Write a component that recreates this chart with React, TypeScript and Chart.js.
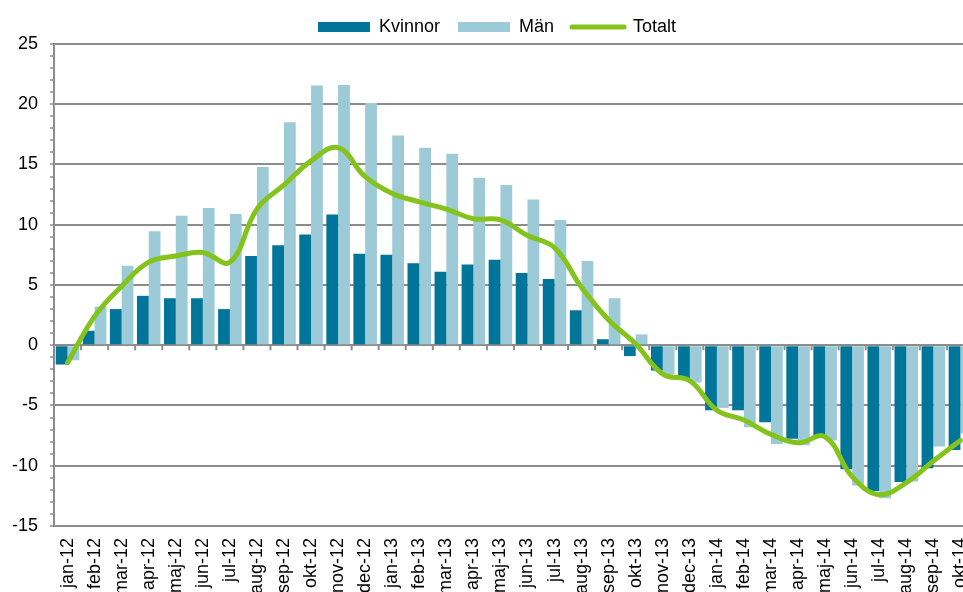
import React, { useEffect, useRef } from "react";
import { Chart, registerables } from "chart.js";

Chart.register(...registerables);

const categories = [
  "jan-12", "feb-12", "mar-12", "apr-12", "maj-12", "jun-12", "jul-12", "aug-12", "sep-12", "okt-12", "nov-12", "dec-12",
  "jan-13", "feb-13", "mar-13", "apr-13", "maj-13", "jun-13", "jul-13", "aug-13", "sep-13", "okt-13", "nov-13", "dec-13",
  "jan-14", "feb-14", "mar-14", "apr-14", "maj-14", "jun-14", "jul-14", "aug-14", "sep-14", "okt-14",
];

const kvinnor = [
  -1.6, 1.2, 3.0, 4.1, 3.9, 3.9, 3.0, 7.4, 8.3, 9.2, 10.85, 7.6,
  7.5, 6.8, 6.1, 6.7, 7.1, 6.0, 5.5, 2.9, 0.5, -0.9, -2.1, -2.8,
  -5.4, -5.4, -6.4, -7.75, -7.5, -10.3, -12.1, -11.35, -10.2, -8.7,
];

const man = [
  -1.25, 3.2, 6.6, 9.45, 10.75, 11.4, 10.9, 14.8, 18.5, 21.55, 21.6, 20.1,
  17.4, 16.4, 15.9, 13.9, 13.3, 12.1, 10.4, 7.0, 3.9, 0.9, -2.4, -3.1,
  -5.2, -6.8, -8.2, -8.3, -7.9, -11.65, -12.7, -11.3, -8.4, -7.3,
];

const totalt = [
  -1.45, 2.4, 4.9, 6.9, 7.4, 7.7, 6.9, 11.3, 13.3, 15.3, 16.4, 14.0,
  12.6, 11.9, 11.3, 10.5, 10.4, 9.1, 8.1, 4.8, 2.1, 0.1, -2.4, -2.95,
  -5.4, -6.2, -7.4, -8.1, -7.6, -10.9, -12.4, -11.4, -9.6, -7.9,
];

const yMin = -15;
const yMax = 25;
const yMajorStep = 5;

const DARK = "#00759a";
const LIGHT = "#9ccad7";
const GREEN = "#84c31c";
const GRID = "#8c8c8c";
const FONT = "'Liberation Sans', Arial, Helvetica, sans-serif";

const zeroTicks = {
  id: "zeroTicks",
  beforeDatasetsDraw(chart: any) {
    const xs = chart.scales.x;
    const ys = chart.scales.y;
    const ctx = chart.ctx;
    const y0 = ys.getPixelForValue(0);
    const n = chart.data.labels.length;
    ctx.save();
    ctx.strokeStyle = GRID;
    ctx.lineWidth = 2;
    ctx.beginPath();
    for (let i = 1; i < n; i++) {
      const px = (xs.getPixelForValue(i - 1) + xs.getPixelForValue(i)) / 2;
      ctx.moveTo(px, y0);
      ctx.lineTo(px, y0 + 5);
    }
    ctx.stroke();
    ctx.restore();
  },
};

const legendFit = {
  id: "legendFit",
  beforeInit(chart: any) {
    const orig = chart.legend.fit;
    chart.legend.fit = function () {
      orig.bind(chart.legend)();
      this.height -= 2;
    };
  },
};

export default function App() {
  const ref = useRef<HTMLCanvasElement>(null);

  useEffect(() => {
    if (!ref.current) return;
    Chart.defaults.font.family = FONT;
    const chart = new Chart(ref.current, {
      type: "bar",
      data: {
        labels: categories,
        datasets: [
          {
            type: "line",
            label: "Totalt",
            data: totalt,
            borderColor: GREEN,
            backgroundColor: GREEN,
            borderWidth: 5,
            pointRadius: 0,
            tension: 0.4,
            borderCapStyle: "round",
            order: 0,
          } as any,
          {
            label: "Kvinnor",
            data: kvinnor,
            backgroundColor: DARK,
            barPercentage: 1,
            categoryPercentage: 0.87,
            order: 1,
          },
          {
            label: "Män",
            data: man,
            backgroundColor: LIGHT,
            barPercentage: 1,
            categoryPercentage: 0.87,
            order: 1,
          },
        ],
      },
      options: {
        responsive: false,
        animation: false,
        devicePixelRatio: 1,
        layout: { padding: { left: 0, right: 0, top: 0, bottom: 0 } },
        plugins: {
          tooltip: { enabled: false },
          legend: {
            position: "top",
            labels: {
              usePointStyle: true,
              pointStyleWidth: 52,
              boxHeight: 10,
              padding: 18,
              color: "#000",
              font: { size: 18, family: FONT },
              generateLabels: () => [
                { text: "Kvinnor", fillStyle: DARK, strokeStyle: DARK, lineWidth: 0, pointStyle: "rect", datasetIndex: 1, hidden: false, fontColor: "#000" },
                { text: "Män", fillStyle: LIGHT, strokeStyle: LIGHT, lineWidth: 0, pointStyle: "rect", datasetIndex: 2, hidden: false, fontColor: "#000" },
                { text: "Totalt", fillStyle: GREEN, strokeStyle: GREEN, lineWidth: 5, lineCap: "round", pointStyle: "line", datasetIndex: 0, hidden: false, fontColor: "#000" },
              ] as any,
            },
          },
        },
        scales: {
          x: {
            grid: { display: false, drawTicks: false },
            border: { display: false },
            ticks: {
              autoSkip: false,
              maxRotation: 90,
              minRotation: 90,
              padding: 12,
              color: "#000",
              font: { size: 18, family: FONT },
            },
          },
          y: {
            min: yMin,
            max: yMax,
            grid: {
              color: (c: any) => (c.tick && c.tick.value % yMajorStep === 0 ? GRID : "rgba(0,0,0,0)"),
              lineWidth: 2,
              tickColor: GRID,
              tickLength: 4,
              tickWidth: 1.5,
            },
            border: { display: true, color: GRID, width: 2 },
            ticks: {
              stepSize: 1,
              autoSkip: false,
              padding: 12,
              color: "#000",
              font: { size: 18, family: FONT },
              callback: (v: any) => (Number(v) % yMajorStep === 0 ? String(v) : ""),
            },
          },
        },
      },
      plugins: [zeroTicks, legendFit],
    });
    return () => chart.destroy();
  }, []);

  return (
    <div style={{ position: "fixed", left: 0, top: 0, width: 963, height: 592, overflow: "hidden", background: "#fff" }}>
      <canvas ref={ref} width={994} height={607} style={{ display: "block" }} />
    </div>
  );
}
